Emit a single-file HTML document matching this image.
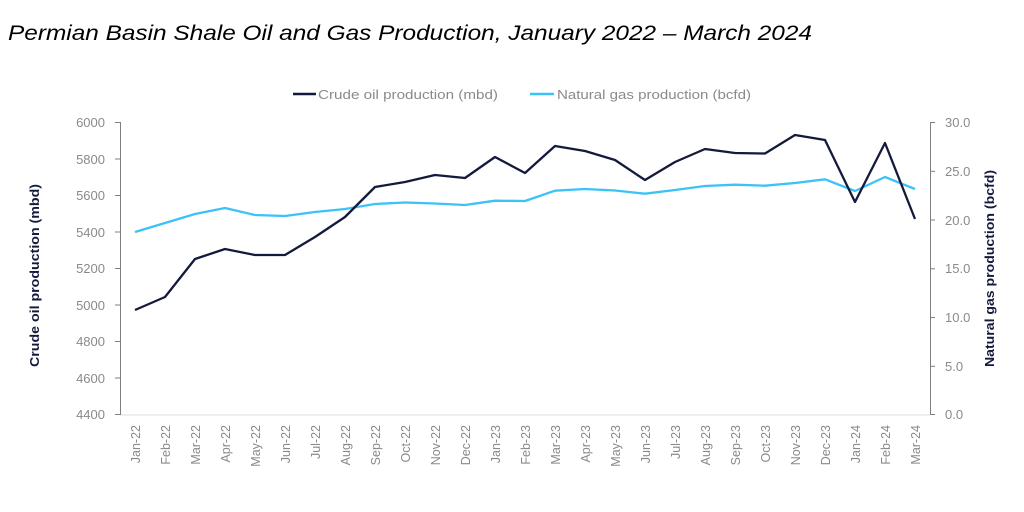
<!DOCTYPE html>
<html><head><meta charset="utf-8"><style>
html,body{margin:0;padding:0;background:#fff;}
svg{display:block;}
</style></head><body>
<svg width="1024" height="512" xmlns="http://www.w3.org/2000/svg" font-family="Liberation Sans, DejaVu Sans, sans-serif">
<text x="8" y="40" font-size="21" font-style="italic" fill="#000" textLength="804" lengthAdjust="spacingAndGlyphs">Permian Basin Shale Oil and Gas Production, January 2022 – March 2024</text>
<!-- legend -->
<line x1="293" y1="94" x2="316" y2="94" stroke="#141a3c" stroke-width="2.5"/>
<text x="318" y="99" font-size="13" fill="#8a8a8a" textLength="180" lengthAdjust="spacingAndGlyphs">Crude oil production (mbd)</text>
<line x1="530" y1="94" x2="554" y2="94" stroke="#3bc3f7" stroke-width="2.5"/>
<text x="557" y="99" font-size="13" fill="#8a8a8a" textLength="194" lengthAdjust="spacingAndGlyphs">Natural gas production (bcfd)</text>
<!-- axes -->
<line x1="120" y1="415" x2="930" y2="415" stroke="#dcdcdc" stroke-width="1"/>
<g stroke="#7f7f7f" stroke-width="1">
<line x1="120.5" y1="122" x2="120.5" y2="415"/>
<line x1="930.5" y1="122" x2="930.5" y2="415"/>
<line x1="115" y1="122.5" x2="120" y2="122.5"/><line x1="115" y1="159" x2="120" y2="159"/><line x1="115" y1="195.5" x2="120" y2="195.5"/><line x1="115" y1="232" x2="120" y2="232"/><line x1="115" y1="268.5" x2="120" y2="268.5"/><line x1="115" y1="305" x2="120" y2="305"/><line x1="115" y1="341.5" x2="120" y2="341.5"/><line x1="115" y1="378" x2="120" y2="378"/><line x1="115" y1="414.5" x2="120" y2="414.5"/>
<line x1="930" y1="122.5" x2="935" y2="122.5"/><line x1="930" y1="171.3" x2="935" y2="171.3"/><line x1="930" y1="220" x2="935" y2="220"/><line x1="930" y1="268.8" x2="935" y2="268.8"/><line x1="930" y1="317.6" x2="935" y2="317.6"/><line x1="930" y1="366.3" x2="935" y2="366.3"/><line x1="930" y1="414.5" x2="935" y2="414.5"/>
</g>
<g font-size="13" fill="#8a8a8a" text-anchor="end">
<text x="105" y="127">6000</text><text x="105" y="164">5800</text><text x="105" y="200">5600</text><text x="105" y="237">5400</text><text x="105" y="273">5200</text><text x="105" y="310">5000</text><text x="105" y="346">4800</text><text x="105" y="383">4600</text><text x="105" y="419">4400</text>
</g>
<g font-size="13" fill="#8a8a8a" text-anchor="start">
<text x="945" y="127">30.0</text><text x="945" y="176">25.0</text><text x="945" y="225">20.0</text><text x="945" y="273">15.0</text><text x="945" y="322">10.0</text><text x="945" y="371">5.0</text><text x="945" y="419">0.0</text>
</g>
<text transform="translate(39,367) rotate(-90)" font-size="13" font-weight="bold" fill="#141a3c" textLength="183" lengthAdjust="spacingAndGlyphs">Crude oil production (mbd)</text>
<text transform="translate(994,367) rotate(-90)" font-size="13" font-weight="bold" fill="#141a3c" textLength="197" lengthAdjust="spacingAndGlyphs">Natural gas production (bcfd)</text>
<g font-size="12.5" fill="#8a8a8a" text-anchor="end">
<text transform="translate(140,425) rotate(-90)">Jan-22</text>
<text transform="translate(170,425) rotate(-90)">Feb-22</text>
<text transform="translate(200,425) rotate(-90)">Mar-22</text>
<text transform="translate(230,425) rotate(-90)">Apr-22</text>
<text transform="translate(260,425) rotate(-90)">May-22</text>
<text transform="translate(290,425) rotate(-90)">Jun-22</text>
<text transform="translate(320,425) rotate(-90)">Jul-22</text>
<text transform="translate(350,425) rotate(-90)">Aug-22</text>
<text transform="translate(380,425) rotate(-90)">Sep-22</text>
<text transform="translate(410,425) rotate(-90)">Oct-22</text>
<text transform="translate(440,425) rotate(-90)">Nov-22</text>
<text transform="translate(470,425) rotate(-90)">Dec-22</text>
<text transform="translate(500,425) rotate(-90)">Jan-23</text>
<text transform="translate(530,425) rotate(-90)">Feb-23</text>
<text transform="translate(560,425) rotate(-90)">Mar-23</text>
<text transform="translate(590,425) rotate(-90)">Apr-23</text>
<text transform="translate(620,425) rotate(-90)">May-23</text>
<text transform="translate(650,425) rotate(-90)">Jun-23</text>
<text transform="translate(680,425) rotate(-90)">Jul-23</text>
<text transform="translate(710,425) rotate(-90)">Aug-23</text>
<text transform="translate(740,425) rotate(-90)">Sep-23</text>
<text transform="translate(770,425) rotate(-90)">Oct-23</text>
<text transform="translate(800,425) rotate(-90)">Nov-23</text>
<text transform="translate(830,425) rotate(-90)">Dec-23</text>
<text transform="translate(860,425) rotate(-90)">Jan-24</text>
<text transform="translate(890,425) rotate(-90)">Feb-24</text>
<text transform="translate(920,425) rotate(-90)">Mar-24</text>
</g>
<polyline fill="none" stroke="#3bc3f7" stroke-width="2.3" stroke-linejoin="round" points="135,232 165,223 195,214 225,208 255,215 285,216 315,212 345,209 375,204 405,202.5 435,203.5 465,205 495,200.7 525,201 555,190.7 585,189 615,190.5 645,193.7 675,190 705,186 735,184.7 765,185.7 795,183 825,179.3 855,191 885,177 915,189"/>
<polyline fill="none" stroke="#141a3c" stroke-width="2.3" stroke-linejoin="round" points="135,310 165,297 195,259 225,249 255,255 285,255 315,237 345,217 375,187 405,182 435,175 465,178 495,157 525,173 555,146 585,151 615,160 645,180 675,162 705,149 735,153 765,153.5 795,135 825,140 855,202 885,143 915,219"/>
</svg>
</body></html>
